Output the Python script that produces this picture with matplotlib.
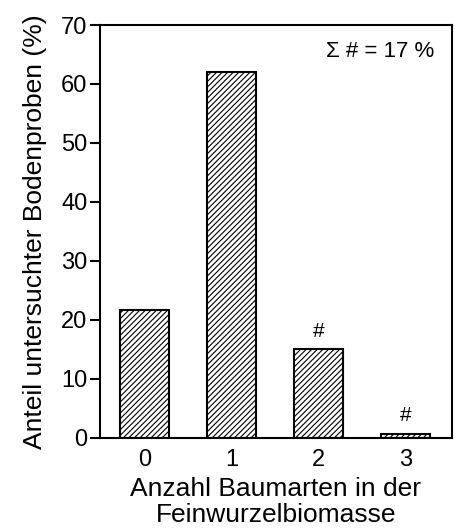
import matplotlib.pyplot as plt

plt.rcParams['font.family'] = ['Liberation Sans', 'DejaVu Sans']
plt.rcParams['hatch.linewidth'] = 0.8

categories = ["0", "1", "2", "3"]
values = [21.7, 62.0, 15.0, 0.7]
marks = ["", "", "#", "#"]

fig = plt.figure(figsize=(4.55, 5.32), dpi=100)
ax = fig.add_axes([0.22, 0.177, 0.773, 0.776])

x = range(len(categories))
ax.bar(x, values, width=0.57, color="white", edgecolor="black",
       linewidth=1.5, hatch="//////")

for xi, v, m in zip(x, values, marks):
    if m:
        ax.text(xi, v + 1.5, m, ha="center", va="bottom", fontsize=15)

ax.text(0.95, 0.935, "Σ # = 17 %", transform=ax.transAxes,
        ha="right", va="center", fontsize=16)

ax.set_xlim(-0.51, 3.53)
ax.set_ylim(0, 70)
ax.set_xticks(list(x))
ax.set_xticklabels(categories)
ax.set_yticks(range(0, 71, 10))
ax.tick_params(axis="both", labelsize=17, width=1.5, length=7, direction="out")
ax.tick_params(axis="x", length=0, pad=8)
ax.tick_params(axis="y", pad=2)
for s in ax.spines.values():
    s.set_linewidth(1.5)

ax.set_ylabel("Anteil untersuchter Bodenproben (%)", fontsize=19, labelpad=10)
ax.set_xlabel("Anzahl Baumarten in der\nFeinwurzelbiomasse", fontsize=19,
              linespacing=1.15, labelpad=4)

fig.savefig("out.png", dpi=100)
